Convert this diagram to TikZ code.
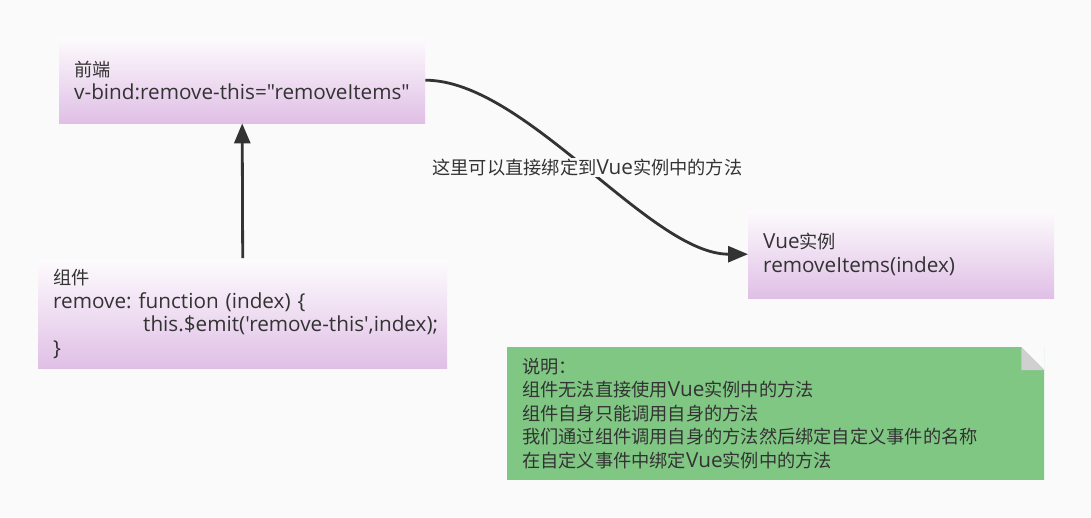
\documentclass[tikz,border=0pt]{standalone}
\usepackage{fontspec}
\setmainfont{Open Sans}[Ligatures=TeXOff,Scale=1.12]
\newfontfamily\cjk{Noto Sans CJK SC}[Scale=0.985]
\newcommand\zh[1]{{\cjk #1}}
\frenchspacing
\hyphenpenalty=10000 \exhyphenpenalty=10000 \hbadness=10000 \hfuzz=50pt\relax
\usetikzlibrary{arrows.meta,positioning}
\definecolor{bgc}{HTML}{FAFAFA}
\definecolor{txtc}{HTML}{333333}
\definecolor{boxtop}{HTML}{FDFBFD}
\definecolor{boxbot}{HTML}{E0BFE6}
\definecolor{notec}{HTML}{80C784}
\definecolor{foldc}{HTML}{D0D0D0}
\tikzset{
  vbox/.style={anchor=north west,top color=boxtop,bottom color=boxbot,inner xsep=15pt,inner ysep=0pt,align=left,text=txtc,font=\fontsize{18.5}{23.5}\selectfont},
  notebox/.style={vbox,top color=notec,bottom color=notec},
  flow/.style={draw=txtc,line width=2.8pt,-{Triangle[length=20pt,width=16pt]}},
}
\begin{document}
\begin{tikzpicture}[x=1pt,y=-1pt]
\fill[bgc] (0,0) rectangle (1091,517);
\node[vbox,text width=336pt,minimum height=86pt](front) at (59,37){\zh{前端}\\v-bind:remove-this="removeItems"};
\node[vbox,text width=379pt,minimum height=108pt](comp) at (38,260){\zh{组件}\\remove: function (index) \{\\\hspace*{90pt}this.\$emit('remove-this',index);\\\}};
\node[vbox,text width=276pt,minimum height=88pt](vue) at (748,210){Vue\zh{实例}\\removeItems(index)};
\node[notebox,text width=507pt,minimum height=132pt](note) at (507,347){\zh{说明：}\\\zh{组件无法直接使用}Vue\zh{实例中的方法}\\\zh{组件自身只能调用自身的方法}\\\zh{我们通过组件调用自身的方法然后绑定自定义事件的名称}\\\zh{在自定义事件中绑定}Vue\zh{实例中的方法}};
% folded corner
\fill[bgc] ([xshift=-23pt]note.north east) -- (note.north east) -- ([yshift=-23pt]note.north east) -- cycle;
\fill[foldc] ([xshift=-23pt]note.north east) -- ([xshift=-23pt,yshift=-23pt]note.north east) -- ([yshift=-23pt]note.north east) -- cycle;
% arrows
\draw[flow] ([yshift=2pt]comp.north) -- (front.south);
\draw[flow] (front.east) .. controls +(100,0) and +(-98,0) .. (vue.west)
  node[pos=0.5,fill=bgc,inner sep=1pt,text=txtc,font=\fontsize{18.5}{23.5}\selectfont](lbl){\zh{这里可以直接绑定到}Vue\zh{实例中的方法}};
\end{tikzpicture}
\end{document}
